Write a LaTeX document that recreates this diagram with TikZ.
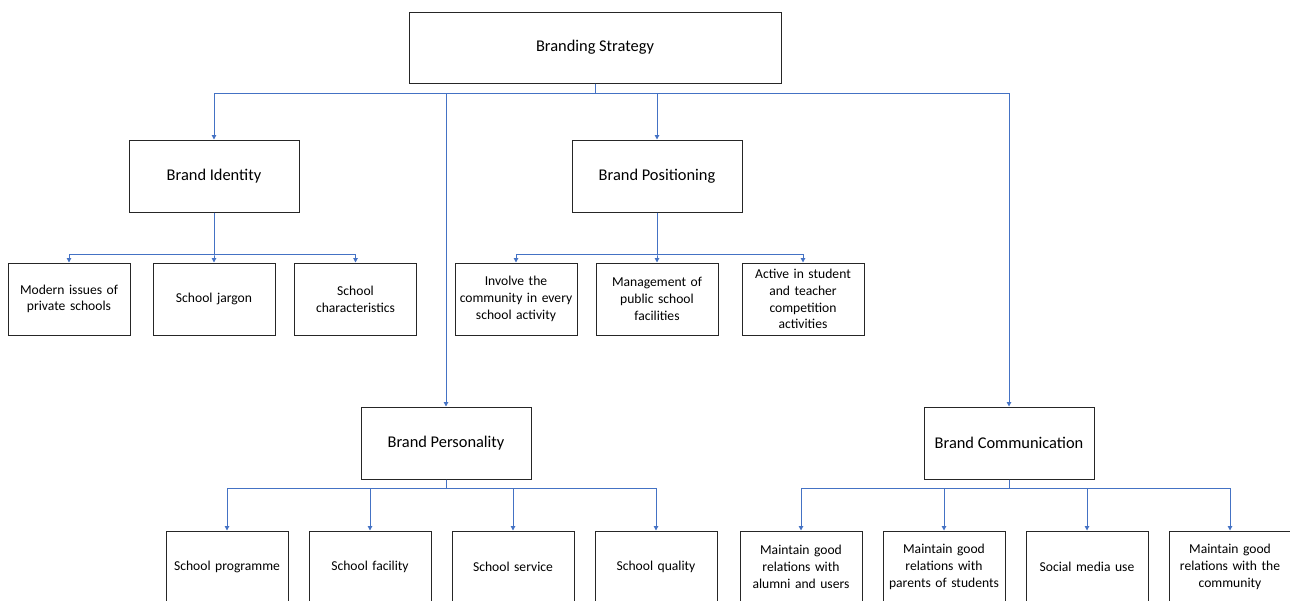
\documentclass[tikz,border=0pt]{standalone}
\usepackage{fontspec}
\setmainfont{Carlito}
\usetikzlibrary{arrows.meta}
\definecolor{linkblue}{HTML}{4472C4}
\definecolor{boxline}{HTML}{262626}
\tikzset{
  mainbox/.style={draw=boxline, line width=1pt, rectangle, minimum width=170pt, minimum height=72pt, inner sep=0pt, font=\fontsize{16.4}{19.5}\selectfont, align=center, text=black},
  subbox/.style={draw=boxline, line width=1pt, rectangle, minimum width=122pt, minimum height=72pt, inner sep=0pt, text width=118pt, font=\fontsize{13.6}{16.7}\selectfont, align=center, text=black},
  conn/.style={draw=linkblue, line width=1pt, -{Triangle[width=4.5pt,length=4.5pt]}}
}
\begin{document}
\begin{tikzpicture}[x=1pt,y=-1pt]
\useasboundingbox (0,0) rectangle (1290,600);
% root
\node[mainbox, minimum width=372pt, minimum height=71pt] (bs) at (595,47.5) {Branding Strategy};
% level 1
\node[mainbox] (bi) at (214,176) {Brand Identity};
\node[mainbox] (bpo) at (657,176) {Brand Positioning};
\node[mainbox] (bpe) at (446,443) {Brand Personality};
\node[mainbox] (bc) at (1009,443) {Brand Communication};
% identity children
\node[subbox] (bi1) at (69,299) {Modern issues of\\private schools};
\node[subbox] (bi2) at (214,299) {School jargon};
\node[subbox] (bi3) at (355.5,299) {School\\characteristics};
% positioning children
\node[subbox] (bpo1) at (516,299) {Involve the\\community in every\\school activity};
\node[subbox] (bpo2) at (657,299) {Management of\\public school\\facilities};
\node[subbox] (bpo3) at (803,299) {Active in student\\and teacher\\competition\\activities};
% personality children
\node[subbox] (bpe1) at (227,567) {School programme};
\node[subbox] (bpe2) at (370,567) {School facility};
\node[subbox] (bpe3) at (513,567) {School service};
\node[subbox] (bpe4) at (656,567) {School quality};
% communication children
\node[subbox] (bc1) at (801,567) {Maintain good\\relations with\\alumni and users};
\node[subbox] (bc2) at (944,567) {Maintain good\\relations with\\parents of students};
\node[subbox] (bc3) at (1087,567) {Social media use};
\node[subbox] (bc4) at (1230,567) {Maintain good\\relations with the\\community};
% connectors from root
\foreach \t in {bi,bpo,bpe,bc}
  \draw[conn] (bs.south) -- ++(0,9.5) -| (\t.north);
% identity
\foreach \t in {bi1,bi2,bi3}
  \draw[conn] (bi.south) -- ++(0,42) -| (\t.north);
% positioning
\foreach \t in {bpo1,bpo2,bpo3}
  \draw[conn] (bpo.south) -- ++(0,42) -| (\t.north);
% personality
\foreach \t in {bpe1,bpe2,bpe3,bpe4}
  \draw[conn] (bpe.south) -- ++(0,9) -| (\t.north);
% communication
\foreach \t in {bc1,bc2,bc3,bc4}
  \draw[conn] (bc.south) -- ++(0,9) -| (\t.north);
\end{tikzpicture}
\end{document}
